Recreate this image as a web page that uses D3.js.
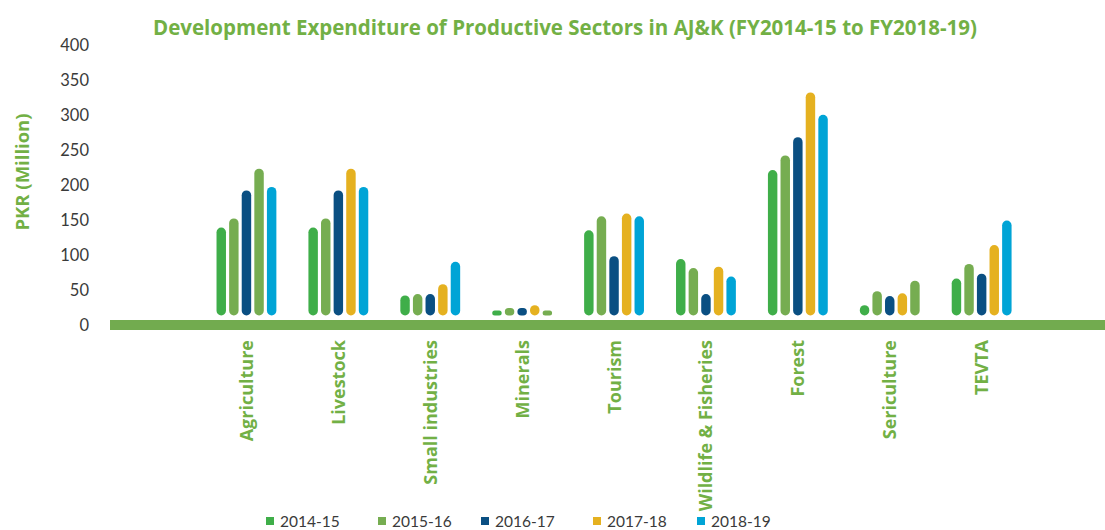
<!DOCTYPE html>
<html>
<head>
<meta charset="utf-8">
<script src="https://cdn.jsdelivr.net/npm/d3@7"></script>
<style>
  body { margin: 0; background: #fff; }
  svg { display: block; font-family: Lato, "Open Sans", sans-serif; }
  .tick text { fill: #3a3a3a; font-size: 16.5px; font-family: Lato, sans-serif; }
  .bold-label { font-family: "Open Sans", sans-serif; font-weight: 700; fill: #72b045; }
</style>
</head>
<body>
<svg id="chart"></svg>
<script>
/* global d3 */

const categories = ['Agriculture', 'Livestock', 'Small industries', 'Minerals', 'Tourism',
  'Wildlife & Fisheries', 'Forest', 'Sericulture', 'TEVTA'];
const years = ['2014-15', '2015-16', '2016-17', '2017-18', '2018-19'];

// one array per fiscal year, in category order
const fy1415 = [140, 140, 43, 21, 136, 95, 222, 29, 67];
const fy1516 = [153, 153, 45, 25, 156, 82, 243, 49, 88];
const fy1617 = [193, 193, 45, 25, 99, 45, 269, 42, 74];
const fy1718 = [224, 224, 59, 29, 160, 84, 333, 46, 115];
const fy1819 = [198, 198, 91, 21, 156, 70, 301, 64, 150];
const series = [fy1415, fy1516, fy1617, fy1718, fy1819];

const yTicks = [0, 50, 100, 150, 200, 250, 300, 350, 400];

const colors = ['#3fae49', '#76ad51', '#0a4f82', '#e5b120', '#00a4d6'];
// a few bars in the source are painted light green instead of their series colour
const colorOverrides = { 'Agriculture|2017-18': '#76ad51', 'Minerals|2018-19': '#76ad51', 'Sericulture|2018-19': '#76ad51' };

const W = 1105, H = 530;
const svg = d3.select('#chart').attr('width', W).attr('height', H);

const y = d3.scaleLinear().domain([0, 400]).range([325.5, 45.5]);
const x0 = d3.scaleBand().domain(categories).range([200.5, 1027.6]).padding(0);
const x1 = d3.scaleBand().domain(years).range([-31.5, 31.5]).paddingInner(0.25).paddingOuter(0.125);

// title
svg.append('text')
  .attr('class', 'bold-label')
  .attr('x', 565).attr('y', 35)
  .attr('text-anchor', 'middle')
  .attr('font-size', 20.5)
  .text('Development Expenditure of Productive Sectors in AJ&K (FY2014-15 to FY2018-19)');

// y axis (labels only)
const yAxis = svg.append('g')
  .attr('transform', 'translate(89,0)')
  .call(d3.axisLeft(y).tickValues(yTicks).tickSize(0).tickPadding(0));
yAxis.select('.domain').remove();

svg.append('text')
  .attr('class', 'bold-label')
  .attr('transform', 'translate(29,172) rotate(-90)')
  .attr('text-anchor', 'middle')
  .attr('font-size', 18.5)
  .text('PKR (Million)');

// thick green baseline
svg.append('rect')
  .attr('x', 110).attr('y', 320)
  .attr('width', W - 110).attr('height', 10)
  .attr('fill', '#72ab4f');

// bars
const barBottom = y(0) - 10;
const groups = svg.append('g').selectAll('g')
  .data(categories)
  .join('g')
  .attr('transform', c => `translate(${x0(c) + x0.bandwidth() / 2},0)`);

groups.selectAll('rect')
  .data((c, ci) => years.map((yr, si) => ({ c, yr, si, v: series[si][ci] })))
  .join('rect')
  .attr('x', d => x1(d.yr))
  .attr('width', x1.bandwidth())
  .attr('y', d => Math.min(y(d.v), barBottom - 5))
  .attr('height', d => barBottom - Math.min(y(d.v), barBottom - 5))
  .attr('rx', d => Math.min(x1.bandwidth() / 2, (barBottom - Math.min(y(d.v), barBottom - 5)) / 2))
  .attr('fill', d => colorOverrides[d.c + '|' + d.yr] || colors[d.si]);

// category labels
svg.append('g').selectAll('text')
  .data(categories)
  .join('text')
  .attr('class', 'bold-label')
  .attr('transform', c => `translate(${x0(c) + x0.bandwidth() / 2 + 6.5},340) rotate(-90)`)
  .attr('text-anchor', 'end')
  .attr('font-size', 18)
  .text(c => c);

// legend
const legendX = [266, 378, 481, 593, 697];
const legend = svg.append('g').selectAll('g')
  .data(years)
  .join('g')
  .attr('transform', (d, i) => `translate(${legendX[i]},515)`);
legend.append('rect').attr('width', 8).attr('height', 8).attr('y', 2)
  .attr('fill', (d, i) => colors[i]);
legend.append('text').attr('x', 14).attr('y', 12)
  .attr('fill', '#3a3a3a').attr('font-size', 15.5)
  .text(d => d);
</script>
</body>
</html>
